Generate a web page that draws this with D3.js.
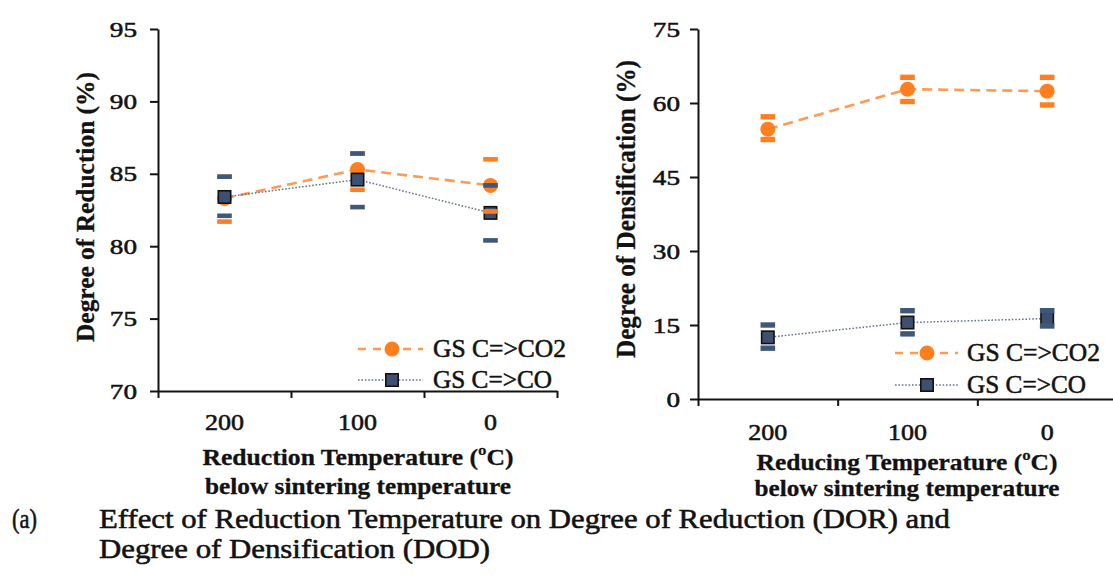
<!DOCTYPE html>
<html>
<head>
<meta charset="utf-8">
<script src="https://cdn.jsdelivr.net/npm/d3@7"></script>
<style>
  html, body { margin: 0; padding: 0; background: #fff; }
  svg { display: block; font-family: "Liberation Serif", "Times New Roman", serif; }
  text { paint-order: stroke; }
</style>
</head>
<body>
<svg id="chart" width="1113" height="577"></svg>
<script>
// Temperature below sintering temperature (°C)
const categories = ["200", "100", "0"];

// Degree of reduction (%) with error-bar bounds
const dorCO2 = [83.3, 85.3, 84.2];
const dorCO2Low = [81.7, 83.9, 82.4];
const dorCO2High = [84.8, 86.4, 86.0];
const dorCO = [83.4, 84.6, 82.3];
const dorCOLow = [82.1, 82.7, 80.4];
const dorCOHigh = [84.8, 86.4, 84.2];

// Degree of densification (%) with error-bar bounds
const dodCO2 = [54.7, 62.8, 62.4];
const dodCO2Low = [52.6, 60.3, 59.6];
const dodCO2High = [57.2, 65.2, 65.2];
const dodCO = [12.5, 15.5, 16.3];
const dodCOLow = [10.3, 13.2, 14.8];
const dodCOHigh = [15.0, 17.9, 17.9];

const dorTicks = [70, 75, 80, 85, 90, 95];
const dodTicks = [0, 15, 30, 45, 60, 75];
const seriesNames = ["GS C=>CO2", "GS C=>CO"];

const ORANGE = "#ff7f1f";
const ORANGE_LINE = "#ff9a52";
const NAVY = "#3d5070";
const NAVY_CAP = "#3f5779";
const DOT = "#66758c";
const INK = "#121212";

const svg = d3.select("#chart");

// stretch a text element to a given rendered width and thicken its strokes a little
function fit(sel, w, sw = 0.55) {
  sel.attr("textLength", w).attr("lengthAdjust", "spacingAndGlyphs")
    .attr("stroke", INK).attr("stroke-width", sw);
  return sel;
}

function panel(cfg) {
  const g = svg.append("g");
  const x = d3.scaleBand().domain(categories).range(cfg.xRange);
  const xEdge = d3.scaleLinear().domain([0, categories.length]).range(cfg.xRange);
  const y = d3.scaleLinear().domain(cfg.yDomain).range(cfg.yRange);
  const cx = d => x(d) + x.bandwidth() / 2;

  // y axis
  const yAxis = g.append("g")
    .attr("transform", `translate(${cfg.xRange[0]},0)`)
    .call(d3.axisLeft(y).tickValues(cfg.yTicks).tickSize(8).tickSizeOuter(0).tickPadding(cfg.yPad));
  yAxis.select(".domain").attr("stroke", INK).attr("stroke-width", 2);
  yAxis.selectAll(".tick line").attr("stroke", INK).attr("stroke-width", 2);
  yAxis.selectAll(".tick text")
    .attr("font-family", "Liberation Serif").attr("font-size", 22).attr("fill", INK)
    .each(function () { fit(d3.select(this), this.textContent.length * 13.6); });

  // x axis: ticks at the category boundaries
  const xAxis = g.append("g")
    .attr("transform", `translate(0,${cfg.yRange[0]})`)
    .call(d3.axisBottom(xEdge).tickValues(d3.range(categories.length + 1)).tickSize(7).tickSizeOuter(0).tickFormat(""));
  xAxis.select(".domain").attr("stroke", INK).attr("stroke-width", 2);
  xAxis.selectAll(".tick line").attr("stroke", INK).attr("stroke-width", 2);

  g.append("g").selectAll("text").data(categories).join("text")
    .attr("x", d => cx(d)).attr("y", cfg.xLabelY)
    .attr("text-anchor", "middle").attr("font-size", 23).attr("fill", INK)
    .text(d => d)
    .each(function (d) { fit(d3.select(this), d.length * 13); });

  // axis titles
  fit(g.append("text")
    .attr("transform", `translate(${cfg.yTitleX},${cfg.yTitleY}) rotate(-90)`)
    .attr("text-anchor", "middle").attr("font-weight", "bold").attr("font-size", cfg.yTitleSize).attr("fill", INK)
    .text(cfg.yTitle), cfg.yTitleW, 0.3);

  cfg.xTitle.forEach((t, i) => {
    fit(g.append("text")
      .attr("x", cfg.xTitleX).attr("y", cfg.xTitleY[i])
      .attr("text-anchor", "middle").attr("font-weight", "bold").attr("font-size", 24).attr("fill", INK)
      .text(t), cfg.xTitleW[i], 0.3);
  });

  const line = vals => d3.line().x((d, i) => cx(categories[i])).y(d => y(d))(vals);

  // connecting lines
  g.append("path").attr("d", line(cfg.co2)).attr("fill", "none")
    .attr("stroke", ORANGE_LINE).attr("stroke-width", 2.6).attr("stroke-dasharray", "10,6");
  g.append("path").attr("d", line(cfg.co)).attr("fill", "none")
    .attr("stroke", DOT).attr("stroke-width", 1.5).attr("stroke-dasharray", "1.6,1.8");

  // markers
  g.append("g").selectAll("circle").data(cfg.co2).join("circle")
    .attr("cx", (d, i) => cx(categories[i])).attr("cy", d => y(d)).attr("r", 7.5)
    .attr("fill", ORANGE);
  g.append("g").selectAll("rect").data(cfg.co).join("rect")
    .attr("x", (d, i) => cx(categories[i]) - 6.2).attr("y", d => y(d) - 6.2)
    .attr("width", 12.4).attr("height", 12.4)
    .attr("fill", NAVY).attr("stroke", "#111").attr("stroke-width", 1.6);

  // error-bar caps
  const caps = (lo, hi, color, th) => {
    const pts = [];
    lo.forEach((v, i) => { pts.push([i, v]); pts.push([i, hi[i]]); });
    g.append("g").selectAll("rect").data(pts).join("rect")
      .attr("x", d => cx(categories[d[0]]) - 7.3).attr("y", d => y(d[1]) - th / 2)
      .attr("width", 14.6).attr("height", th).attr("fill", color);
  };
  caps(cfg.co2Low, cfg.co2High, ORANGE, cfg.capTh);
  caps(cfg.coLow, cfg.coHigh, NAVY_CAP, cfg.capTh);

  // legend
  const lg = g.append("g");
  const L = cfg.legend;
  [0, 1].forEach(k => {
    const ry = L.rows[k];
    lg.append("line").attr("x1", L.x1).attr("x2", L.x2).attr("y1", ry).attr("y2", ry)
      .attr("stroke", k === 0 ? ORANGE_LINE : DOT)
      .attr("stroke-width", k === 0 ? 2.6 : 1.5)
      .attr("stroke-dasharray", k === 0 ? "8,7" : "1.6,1.8");
    if (k === 0) {
      lg.append("circle").attr("cx", L.mx).attr("cy", ry).attr("r", 7.5).attr("fill", ORANGE);
    } else {
      lg.append("rect").attr("x", L.mx - 6.2).attr("y", ry - 6.2).attr("width", 12.4).attr("height", 12.4)
        .attr("fill", NAVY).attr("stroke", "#111").attr("stroke-width", 1.6);
    }
    fit(lg.append("text").attr("x", L.tx).attr("y", ry + 8)
      .attr("font-size", 26).attr("fill", INK).text(seriesNames[k]), k === 0 ? 133 : 119);
  });
}

panel({
  xRange: [158, 557], yDomain: [70, 95], yRange: [391, 29], yTicks: dorTicks, yPad: 13,
  xLabelY: 430,
  yTitle: "Degree of Reduction (%)", yTitleX: 94, yTitleY: 207, yTitleSize: 25, yTitleW: 270,
  xTitle: ["Reduction Temperature (\u00baC)", "below sintering temperature"],
  xTitleX: 358, xTitleY: [465, 494], xTitleW: [311, 306],
  co2: dorCO2, co2Low: dorCO2Low, co2High: dorCO2High,
  co: dorCO, coLow: dorCOLow, coHigh: dorCOHigh, capTh: 4.6,
  legend: { rows: [349, 380], x1: 358, x2: 423, mx: 392, tx: 433 }
});

panel({
  xRange: [698, 1117], yDomain: [0, 75], yRange: [399, 29], yTicks: dodTicks, yPad: 10,
  xLabelY: 440,
  yTitle: "Degree of Densification (%)", yTitleX: 635, yTitleY: 209, yTitleSize: 27, yTitleW: 298,
  xTitle: ["Reducing Temperature (\u00baC)", "below sintering temperature"],
  xTitleX: 907, xTitleY: [470, 496], xTitleW: [301, 305],
  co2: dodCO2, co2Low: dodCO2Low, co2High: dodCO2High,
  co: dodCO, coLow: dodCOLow, coHigh: dodCOHigh, capTh: 5.4,
  legend: { rows: [353, 385], x1: 895, x2: 958, mx: 927, tx: 967 }
});

// figure caption
const cap = svg.append("g").attr("font-size", 27).attr("fill", INK);
fit(cap.append("text").attr("x", 12).attr("y", 528).text("(a)"), 25);
fit(cap.append("text").attr("x", 99).attr("y", 528)
  .text("Effect of Reduction Temperature on Degree of Reduction (DOR) and"), 851);
fit(cap.append("text").attr("x", 99).attr("y", 558)
  .text("Degree of Densification (DOD)"), 391);
</script>
</body>
</html>
